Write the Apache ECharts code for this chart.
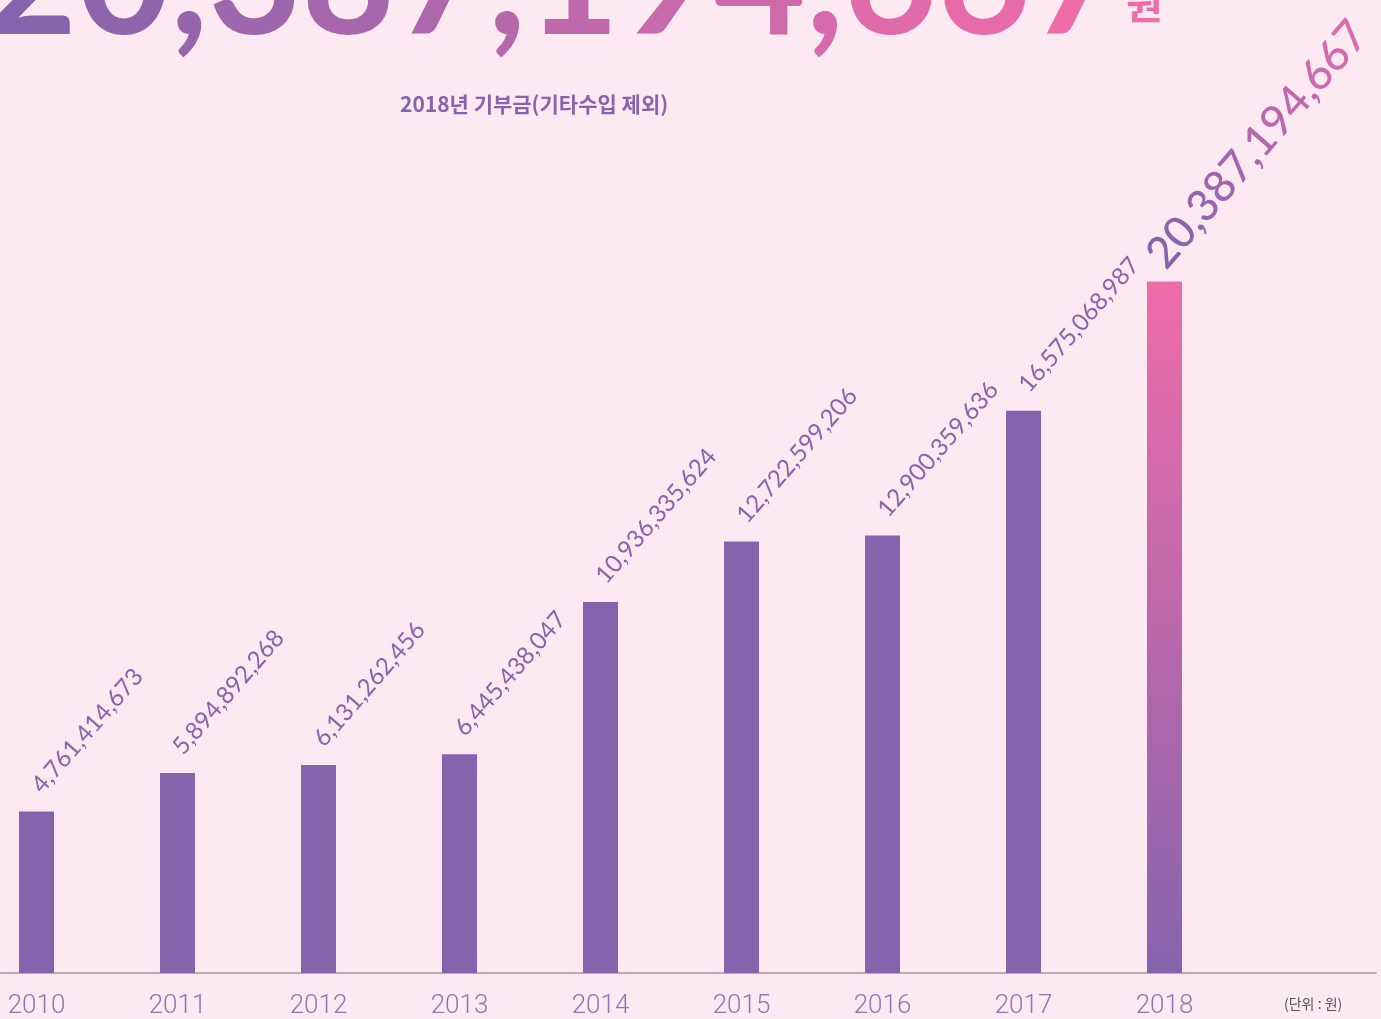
<!DOCTYPE html>
<html>
<head>
<meta charset="utf-8">
<script src="https://cdn.jsdelivr.net/npm/echarts@6/dist/echarts.min.js"></script>
<style>
  html, body { margin: 0; padding: 0; background: #fce9f2; }
  #chart { width: 1381px; height: 1019px; }
</style>
</head>
<body>
<div id="chart"></div>
<script>
// 연도별 기부금 (단위: 원)
var years = ['2010', '2011', '2012', '2013', '2014', '2015', '2016', '2017', '2018'];
var donations = [4761414673, 5894892268, 6131262456, 6445438047, 10936335624, 12722599206, 12900359636, 16575068987, 20387194667];
var headline = '20,387,194,667';
var headlineUnit = '원';
var subtitle = '2018년 기부금(기타수입 제외)';
var unitNote = '(단위 : 원)';

var purple = '#8664ad';
var pink = '#ef6ca9';

function fmt(v) {
  return v.toString().replace(/\B(?=(\d{3})+(?!\d))/g, ',');
}

// 글자마다 색을 섞어서 그라데이션 글씨처럼 보이게 함
function mix(a, b, t) {
  var pa = parseInt(a.slice(1), 16), pb = parseInt(b.slice(1), 16);
  var r = Math.round(((pa >> 16) & 255) * (1 - t) + ((pb >> 16) & 255) * t);
  var g = Math.round(((pa >> 8) & 255) * (1 - t) + ((pb >> 8) & 255) * t);
  var bl = Math.round((pa & 255) * (1 - t) + (pb & 255) * t);
  return 'rgb(' + r + ',' + g + ',' + bl + ')';
}
function gradText(str) {
  var out = '';
  for (var i = 0; i < str.length; i++) out += '{c' + i + '|' + str[i] + '}';
  return out;
}
function gradRich(str, from, to, base) {
  var rich = {};
  for (var i = 0; i < str.length; i++) {
    var s = Object.assign({}, base);
    s.color = mix(from, to, str.length > 1 ? i / (str.length - 1) : 0);
    s.fill = s.color;
    rich['c' + i] = s;
  }
  return rich;
}

var myChart = echarts.init(document.getElementById('chart'));

var lastLabel = fmt(donations[donations.length - 1]);
var barData = donations.map(function (v, i) {
  if (i === donations.length - 1) {
    // 마지막 막대: 핑크 -> 보라 그라데이션, 큰 라벨
    return {
      value: v,
      itemStyle: {
        color: new echarts.graphic.LinearGradient(0, 0, 0, 1, [
          { offset: 0, color: pink },
          { offset: 1, color: purple }
        ])
      },
      label: {
        distance: 30,
        offset: [-14, 0],
        formatter: function () { return gradText(lastLabel); },
        rich: gradRich(lastLabel, purple, '#da6aad', {
          fontFamily: 'Lato', fontSize: 44, fontWeight: 500
        })
      }
    };
  }
  return v;
});

var headRich = gradRich(headline, purple, pink, {
  fontFamily: 'Lato', fontSize: 161, fontWeight: 'bold'
});

var option = {
  backgroundColor: '#fce9f2',
  animation: false,
  grid: {
    left: -34,
    right: 5,
    top: 125,
    bottom: 46,
    outerBoundsMode: 'none'
  },
  xAxis: {
    type: 'category',
    data: years.concat(['']),
    axisLine: { lineStyle: { color: '#a09aa0', width: 1.5 } },
    axisTick: { show: false },
    axisLabel: {
      color: '#9274b6',
      fontFamily: 'Roboto',
      fontWeight: 300,
      fontSize: 26,
      margin: 20
    }
  },
  yAxis: {
    type: 'value',
    min: 0,
    max: 25000000000,
    show: false,
    splitLine: { show: false }
  },
  series: [
    {
      type: 'bar',
      data: barData,
      barWidth: 35,
      itemStyle: { color: purple },
      label: {
        show: true,
        position: 'top',
        rotate: 49,
        align: 'left',
        verticalAlign: 'middle',
        distance: 22,
        color: '#8664ad',
        fontFamily: 'Lato',
        fontWeight: 400,
        fontSize: 24,
        formatter: function (p) { return fmt(p.value); }
      }
    }
  ],
  graphic: [
    {
      type: 'text',
      x: 1124,
      y: -18,
      style: {
        text: gradText(headline),
        rich: headRich,
        align: 'right',
        verticalAlign: 'middle'
      }
    },
    {
      type: 'text',
      x: 1126,
      y: 4,
      style: {
        text: headlineUnit,
        font: 'bold 40px "Noto Sans CJK KR"',
        verticalAlign: 'middle',
        fill: pink
      }
    },
    {
      type: 'text',
      x: 400,
      y: 104,
      style: {
        text: subtitle,
        font: 'bold 21px "Noto Sans CJK KR"',
        verticalAlign: 'middle',
        fill: purple
      }
    },
    {
      type: 'text',
      x: 1284,
      y: 1004,
      style: {
        text: unitNote,
        font: '14px "Noto Sans CJK KR"',
        verticalAlign: 'middle',
        fill: '#555'
      }
    }
  ]
};

myChart.setOption(option);
</script>
</body>
</html>
